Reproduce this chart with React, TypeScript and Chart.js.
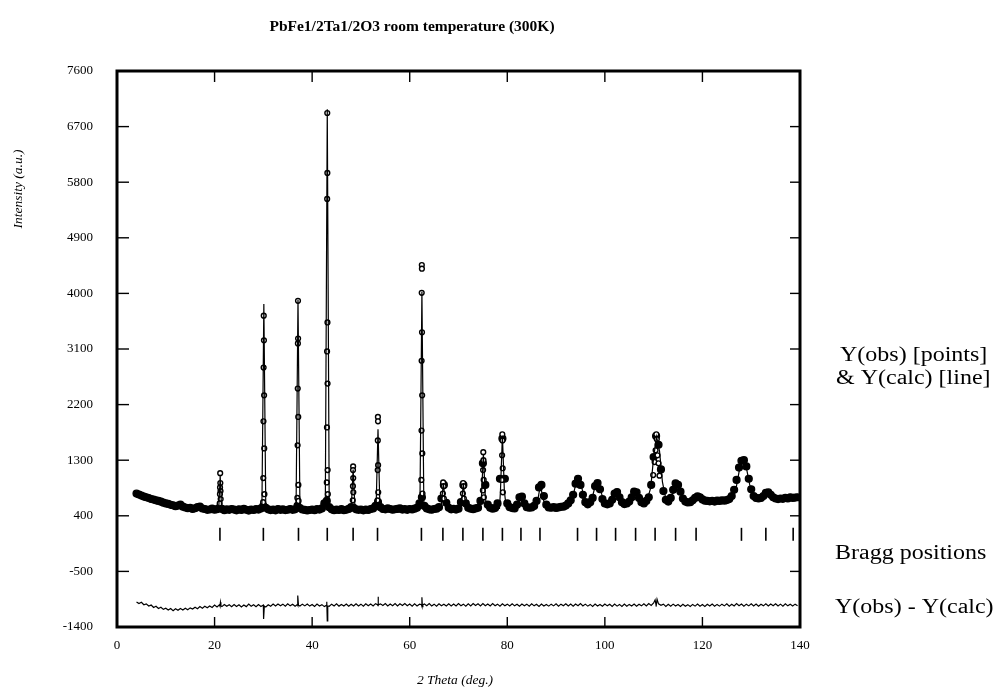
import React, { useEffect, useRef } from "react";
import { Chart, registerables } from "chart.js";

Chart.register(...registerables);

// ---------- texts ----------
const TITLE = "PbFe1/2Ta1/2O3 room temperature (300K)";
const X_TITLE = "2 Theta (deg.)";
const Y_TITLE = "Intensity (a.u.)";
const LABEL_OBS_1 = "Y(obs) [points]";
const LABEL_OBS_2 = "& Y(calc) [line]";
const LABEL_BRAGG = "Bragg positions";
const LABEL_DIFF = "Y(obs) - Y(calc)";

// ---------- axes ----------
const X_MIN = 0;
const X_MAX = 140;
const X_STEP = 20;
const Y_MIN = -1400;
const Y_MAX = 7600;
const Y_STEP = 900;

// ---------- observed pattern (start, step, counts) ----------
const OBS_START = 4;
const OBS_STEP = 0.5;
const obsCounts = [
  760, 745, 728, 712, 700, 688, 672, 662, 650, 640,
  628, 612, 600, 592, 578, 570, 556, 566, 580, 548,
  534, 522, 528, 512, 522, 540, 548, 518, 510, 496,
  502, 515, 498, 508, 530, 512, 490, 505, 496, 510,
  500, 488, 506, 495, 512, 498, 485, 502, 494, 508,
  500, 520, 560, 530, 505, 492, 500, 488, 510, 496,
  504, 492, 498, 510, 496, 505, 560, 525, 502, 495,
  486, 494, 502, 490, 508, 500, 520, 600, 640, 540,
  505, 490, 500, 494, 508, 490, 498, 512, 540, 530,
  505, 496, 502, 488, 500, 494, 510, 520, 560, 620,
  540, 510, 505, 520, 510, 498, 506, 512, 520, 500,
  508, 496, 510, 502, 515, 530, 600, 700, 560, 520,
  505, 498, 510, 516, 540, 680, 900, 610, 530, 505,
  512, 500, 515, 620, 900, 600, 530, 515, 508, 520,
  530, 640, 1250, 900, 580, 530, 515, 525, 600, 1000,
  1650, 1000, 600, 540, 525, 520, 580, 700, 710, 600,
  540, 530, 535, 560, 640, 860, 900, 720, 580, 535,
  530, 540, 528, 535, 545, 548, 565, 600, 650, 740,
  920, 1000, 900, 740, 620, 585, 620, 690, 880, 930,
  830, 670, 600, 585, 600, 660, 760, 785, 700, 620,
  590, 600, 630, 700, 790, 780, 690, 620, 600, 640,
  700, 900, 1350, 1690, 1550, 1150, 800, 660, 630, 690,
  820, 925, 900, 790, 680, 630, 615, 620, 650, 690,
  715, 700, 665, 645, 640, 635, 640, 630, 645, 640,
  650, 645, 655, 670, 720, 820, 980, 1180, 1290, 1300,
  1200, 1000, 830, 720, 690, 680, 690, 720, 770, 780,
  740, 700, 680, 670, 680, 675, 690, 680, 700, 690,
  695, 700,
];

// observed points on the flanks of the sharp reflections [2theta, counts]
const obsPeakPoints: [number, number][] = [
  [21.15, 1090], [21.18, 930], [21.12, 860], [21.22, 800], [21.1, 750], [21.25, 670], [21.05, 600],
  [30.08, 3640], [30.12, 3240], [30.05, 2800], [30.15, 2350], [30.02, 1930], [30.18, 1490], [29.98, 1010], [30.22, 750], [29.95, 620],
  [37.1, 3880], [37.12, 3270], [37.08, 3190], [37.05, 2460], [37.15, 2000], [37.02, 1540], [37.18, 900], [36.97, 690], [37.22, 640],
  [43.1, 6920], [43.12, 5950], [43.08, 5530], [43.14, 3530], [43.06, 3060], [43.16, 2540], [43.04, 1830], [43.18, 1140], [43.0, 940], [43.22, 750],
  [48.4, 1200], [48.38, 1140], [48.42, 1010], [48.36, 880], [48.44, 780], [48.33, 650],
  [53.48, 2000], [53.5, 1930], [53.46, 1620], [53.52, 1220], [53.44, 1140], [53.55, 780], [53.4, 650],
  [62.48, 4460], [62.5, 4400], [62.46, 4010], [62.52, 3370], [62.44, 2910], [62.55, 2350], [62.42, 1780], [62.58, 1410], [62.38, 980], [62.62, 760],
  [66.85, 940], [66.95, 880], [66.8, 760], [67.0, 680],
  [70.95, 930], [71.05, 880], [70.9, 760], [71.1, 680],
  [75.08, 1430], [75.12, 1300], [75.04, 1140], [75.16, 980], [75.0, 810], [75.2, 700],
  [78.98, 1720], [79.02, 1620], [78.94, 1380], [79.06, 1170], [78.9, 980], [79.1, 780],
  [110.55, 1720], [110.65, 1640], [110.4, 1460], [110.8, 1380], [110.2, 1270], [111.0, 1250], [109.9, 1060], [111.2, 1050],
];

// calculated profile [2theta, counts]
const calcProfile: [number, number][] = [
  [3.8, 770], [5, 725], [6, 695], [7, 672], [8, 650], [9, 625], [10, 600], [11, 580], [12, 560], [13, 545],
  [14, 530], [15, 522], [16, 515], [17, 512], [18, 508], [19, 505], [20, 503], [20.85, 503], [21.15, 1050], [21.45, 503],
  [29.7, 500], [30.1, 3830], [30.5, 500], [36.7, 500], [37.1, 3900], [37.5, 500],
  [42.4, 505], [42.7, 600], [43.1, 6980], [43.5, 505], [48.0, 500], [48.4, 1150], [48.8, 500],
  [53.1, 505], [53.5, 1800], [53.9, 505], [61.9, 510], [62.1, 620], [62.5, 4030], [62.9, 510],
  [66.4, 515], [66.9, 930], [67.4, 515], [70.5, 515], [71.0, 920], [71.5, 515],
  [74.5, 518], [74.7, 700], [75.1, 1400], [75.5, 700], [75.8, 520],
  [78.4, 520], [78.6, 800], [79.0, 1700], [79.4, 800], [79.8, 525],
  [82.0, 530], [82.4, 620], [82.8, 720], [83.2, 620], [83.7, 530],
  [85.8, 530], [86.3, 680], [86.8, 900], [87.3, 680], [88.0, 535],
  [92.5, 545], [93.3, 660], [94.0, 900], [94.6, 1000], [95.2, 880], [95.9, 640], [96.6, 585],
  [97.2, 620], [97.9, 850], [98.5, 930], [99.1, 820], [99.8, 630], [100.7, 590],
  [101.5, 640], [102.3, 790], [103.1, 680], [103.9, 600], [104.7, 600],
  [105.4, 680], [106.2, 800], [107.0, 690], [107.8, 610], [108.6, 640],
  [109.4, 850], [110.0, 1350], [110.6, 1680], [111.2, 1450], [111.8, 950], [112.5, 670], [113.3, 640],
  [114.0, 800], [114.7, 920], [115.4, 820], [116.2, 660], [117.2, 620], [118.2, 660], [119.0, 710], [119.8, 660],
  [121, 640], [123, 640], [125, 650], [126.2, 680], [126.9, 850], [127.6, 1150], [128.3, 1310], [129.0, 1180],
  [129.7, 900], [130.5, 720], [131.5, 685], [132.5, 720], [133.4, 780], [134.2, 720], [135.2, 685], [137, 675], [139.9, 692],
];

// Bragg reflection positions (2theta) and the level at which their marks sit
const braggPositions = [
  21.1, 30.0, 37.2, 43.1, 48.4, 53.4, 62.4, 66.8, 70.9, 75.0, 79.0, 82.8, 86.7,
  94.4, 98.3, 102.2, 106.3, 110.3, 114.5, 118.7, 128.0, 133.0, 138.6,
];
const BRAGG_LEVEL = 100;

// difference curve (start, step, values) plus spikes at strong reflections
const DIFF_START = 4;
const DIFF_STEP = 0.5;
const diffValues = [
  -995, -1020, -1000, -1040, -1025, -1060, -1045, -1085, -1065, -1100,
  -1080, -1115, -1095, -1125, -1100, -1135, -1105, -1130, -1100, -1125,
  -1095, -1120, -1090, -1110, -1080, -1105, -1070, -1095, -1065, -1090,
  -1060, -1085, -1045, -1075, -1040, -1070, -1035, -1065, -1040, -1070,
  -1035, -1068, -1040, -1075, -1045, -1070, -1030, -1065, -1040, -1072,
  -1038, -1068, -1045, -1075, -1040, -1065, -1030, -1060, -1028, -1055,
  -1030, -1062, -1025, -1058, -1032, -1065, -1035, -1060, -1030, -1058,
  -1028, -1062, -1035, -1068, -1030, -1060, -1038, -1070, -1040, -1065,
  -1030, -1058, -1025, -1062, -1035, -1060, -1028, -1065, -1032, -1060,
  -1025, -1058, -1030, -1062, -1025, -1055, -1028, -1060, -1022, -1055,
  -1025, -1052, -1020, -1058, -1028, -1055, -1022, -1060, -1025, -1052,
  -1020, -1055, -1028, -1062, -1025, -1058, -1030, -1065, -1028, -1055,
  -1022, -1058, -1030, -1062, -1025, -1055, -1032, -1060, -1026, -1058,
  -1028, -1060, -1022, -1055, -1030, -1062, -1025, -1058, -1020, -1052,
  -1025, -1058, -1020, -1055, -1028, -1060, -1022, -1056, -1030, -1062,
  -1025, -1055, -1030, -1060, -1024, -1058, -1032, -1064, -1028, -1056,
  -1030, -1062, -1026, -1058, -1032, -1066, -1028, -1060, -1034, -1062,
  -1030, -1058, -1026, -1062, -1030, -1056, -1024, -1060, -1030, -1064,
  -1028, -1056, -1022, -1060, -1030, -1062, -1034, -1066, -1030, -1060,
  -1036, -1064, -1028, -1058, -1032, -1066, -1030, -1062, -1034, -1068,
  -1030, -1064, -1034, -1060, -1028, -1062, -1032, -1058, -1026, -1060,
  -1020, -1050, -1010, -1045, -1025, -1050, -1030, -1066, -1032, -1062,
  -1030, -1060, -1036, -1066, -1032, -1064, -1038, -1068, -1034, -1062,
  -1030, -1064, -1036, -1066, -1032, -1060, -1028, -1064, -1034, -1062,
  -1030, -1058, -1026, -1062, -1032, -1060, -1022, -1056, -1028, -1062,
  -1030, -1058, -1026, -1060, -1030, -1064, -1032, -1058, -1026, -1060,
  -1028, -1056, -1024, -1060, -1030, -1062, -1026, -1058, -1032, -1060,
  -1030, -1055,
];
const diffSpikes: [number, number][] = [
  [21.1, -1060], [21.2, -1000], [21.3, -1060],
  [30.0, -1050], [30.1, -1270], [30.2, -1060],
  [37.0, -1045], [37.1, -890], [37.2, -1050],
  [42.9, -1050], [43.0, -990], [43.1, -1300], [43.2, -1060],
  [53.4, -1040], [53.5, -910], [53.6, -1040],
  [62.4, -1040], [62.5, -920], [62.6, -1070], [62.7, -1040],
  [110.3, -960], [110.5, -1070], [110.7, -950],
];

const SERIF = '"Liberation Serif", "DejaVu Serif", serif';

const framePlugin = {
  id: "framePlugin",
  afterDraw(chart: any) {
    const { ctx, chartArea: a, scales } = chart;
    const xs = scales.x;
    const ys = scales.y;
    ctx.save();
    ctx.strokeStyle = "#000";
    ctx.lineWidth = 1.4;
    const seg = (x1: number, y1: number, x2: number, y2: number) => {
      ctx.beginPath();
      ctx.moveTo(x1, y1);
      ctx.lineTo(x2, y2);
      ctx.stroke();
    };
    for (const t of xs.ticks) {
      const px = xs.getPixelForValue(t.value);
      seg(px, a.bottom, px, a.bottom - 10);
      seg(px, a.top, px, a.top + 11);
    }
    for (const t of ys.ticks) {
      const py = ys.getPixelForValue(t.value);
      seg(a.left, py, a.left + 12, py);
      seg(a.right, py, a.right - 10, py);
    }
    ctx.lineWidth = 3;
    ctx.strokeRect(a.left, a.top, a.right - a.left, a.bottom - a.top);

    ctx.fillStyle = "#000";
    ctx.textBaseline = "middle";
    // title
    ctx.font = `bold 15.5px ${SERIF}`;
    ctx.textAlign = "center";
    ctx.fillText(TITLE, 412, 27);
    // x title
    ctx.font = `italic 13.5px ${SERIF}`;
    ctx.fillText(X_TITLE, 455, 680);
    // y title
    ctx.save();
    ctx.translate(18, 189);
    ctx.rotate(-Math.PI / 2);
    ctx.fillText(Y_TITLE, 0, 0);
    ctx.restore();
    // side labels (wide serif)
    ctx.font = `20px ${SERIF}`;
    ctx.textAlign = "left";
    const wide = (text: string, x: number, y: number) => {
      ctx.save();
      ctx.translate(x, y);
      ctx.scale(1.2, 1);
      ctx.fillText(text, 0, 0);
      ctx.restore();
    };
    wide(LABEL_OBS_1, 840, 356);
    wide(LABEL_OBS_2, 836, 379);
    wide(LABEL_BRAGG, 835, 554);
    wide(LABEL_DIFF, 835, 608);
    ctx.restore();
  },
};

export default function App() {
  const canvasRef = useRef<HTMLCanvasElement | null>(null);

  useEffect(() => {
    if (!canvasRef.current) return;

    const nGrid = obsCounts.length;
    const obsData = obsCounts
      .map((y, i) => ({ x: OBS_START + i * OBS_STEP, y }))
      .concat(obsPeakPoints.map(([x, y]) => ({ x, y })));
    const calcData = calcProfile.map(([x, y]) => ({ x, y }));
    const braggData = braggPositions.map((x) => ({ x, y: BRAGG_LEVEL }));
    const diffData = diffValues
      .map((y, i) => ({ x: DIFF_START + i * DIFF_STEP, y }))
      .concat(diffSpikes.map(([x, y]) => ({ x, y })))
      .sort((p, q) => p.x - q.x);

    const chart = new Chart(canvasRef.current, {
      type: "scatter",
      data: {
        datasets: [
          {
            label: "Y(calc)",
            data: calcData,
            showLine: true,
            borderColor: "#000",
            borderWidth: 1.2,
            pointRadius: 0,
            order: 0,
          },
          {
            label: "Y(obs)",
            data: obsData,
            showLine: false,
            pointStyle: "circle",
            pointRadius: (c: any) => (c.dataIndex < nGrid ? 3.4 : 2.4),
            pointBorderWidth: 1.4,
            pointBorderColor: "#000",
            pointBackgroundColor: (c: any) => (c.dataIndex < nGrid ? "#000" : "#fff"),
            order: 1,
          } as any,
          {
            label: "Bragg positions",
            data: braggData,
            showLine: false,
            pointStyle: "line",
            rotation: 90,
            pointRadius: 6.5,
            pointBorderWidth: 1.6,
            pointBorderColor: "#000",
            order: 2,
          } as any,
          {
            label: "Y(obs) - Y(calc)",
            data: diffData,
            showLine: true,
            borderColor: "#000",
            borderWidth: 1.2,
            pointRadius: 0,
            order: 3,
          },
        ],
      },
      options: {
        animation: false,
        responsive: true,
        maintainAspectRatio: false,
        layout: { padding: { left: 0, right: 202, top: 71, bottom: 0 } },
        plugins: {
          legend: { display: false },
          tooltip: { enabled: false },
          title: { display: false },
        },
        scales: {
          x: {
            type: "linear",
            min: X_MIN,
            max: X_MAX,
            grid: { display: false, drawTicks: false },
            border: { display: false },
            ticks: {
              stepSize: X_STEP,
              color: "#000",
              padding: 11,
              maxRotation: 0,
              font: { family: SERIF, size: 13 },
              callback: (v: any) => String(v),
            },
            afterFit: (s: any) => {
              s.height = 69;
            },
          },
          y: {
            type: "linear",
            min: Y_MIN,
            max: Y_MAX,
            grid: { display: false, drawTicks: false },
            border: { display: false },
            ticks: {
              stepSize: Y_STEP,
              color: "#000",
              padding: 24,
              font: { family: SERIF, size: 13 },
              callback: (v: any) => String(v),
            },
            afterFit: (s: any) => {
              s.width = 117;
            },
          },
        },
      },
      plugins: [framePlugin],
    });
    return () => chart.destroy();
  }, []);

  return (
    <div style={{ position: "absolute", left: 0, top: 0, width: 1002, height: 696, background: "#fff" }}>
      <canvas ref={canvasRef} />
    </div>
  );
}
